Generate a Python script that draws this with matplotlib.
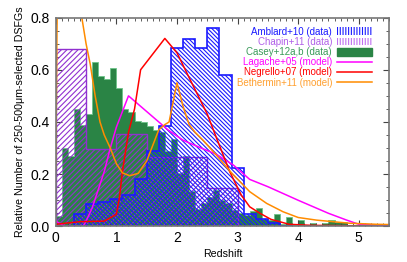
import matplotlib
matplotlib.use("Agg")
import matplotlib.pyplot as plt
import numpy as np
from matplotlib.patches import Patch
from matplotlib.lines import Line2D
from matplotlib.ticker import MultipleLocator

plt.rcParams["font.family"] = ["Liberation Sans", "DejaVu Sans"]
plt.rcParams["hatch.linewidth"] = 0.8

# Casey+12a,b (data): bins of width 0.1 from 0 to 5.5
casey_edges = np.round(np.arange(0, 5.51, 0.1), 2)
casey_vals = [0.04, 0.30, 0.27, 0.45, 0.39, 0.43, 0.63, 0.575, 0.565, 0.605,
              0.53, 0.45, 0.44, 0.405, 0.40, 0.385, 0.37, 0.36, 0.29, 0.335,
              0.205, 0.27, 0.135, 0.065, 0.09, 0.113, 0.14, 0.10, 0.09, 0.062,
              0.05, 0.043, 0.059, 0.071, 0.028, 0.024, 0.046, 0.009, 0.034, 0.005,
              0.024, 0.003, 0.011, 0.002, 0.011, 0.024, 0.017, 0.017, 0.005, 0.005,
              0.008, 0.008, 0.008, 0.005, 0.005]

# Chapin+11 (data)
chapin_edges = [0.0, 0.5, 1.0, 1.5, 2.0, 2.5, 3.0]
chapin_vals = [0.68, 0.295, 0.353, 0.265, 0.265, 0.148]

# Amblard+10 (data)
amblard_edges = np.round(np.arange(0.3, 3.91, 0.2), 2)
amblard_vals = [0.046, 0.085, 0.095, 0.105, 0.12, 0.18, 0.29, 0.384, 0.682,
                0.716, 0.682, 0.759, 0.580, 0.225, 0.046, 0.028, 0.011, 0.003]

# models
lagache_z = [0, 0.15, 0.45, 0.5, 0.6, 0.7, 0.8, 0.9, 1.0, 1.1, 1.2, 1.35, 1.55,
             1.75, 1.85, 2.1, 2.4, 2.65, 2.93, 3.2, 3.5, 4.0, 4.5, 4.8, 5.0, 5.5]
lagache_n = [0.02, 0.0, 0.0, 0.02, 0.07, 0.14, 0.21, 0.30, 0.38, 0.44, 0.50, 0.47,
             0.43, 0.39, 0.37, 0.33, 0.30, 0.276, 0.235, 0.18, 0.152, 0.10, 0.05,
             0.024, 0.008, 0.003]

negrello_z = [0, 0.4, 0.8, 1.0, 1.05, 1.1, 1.2, 1.3, 1.4, 1.8, 2.0, 2.2, 2.5,
              2.65, 2.87, 3.06, 3.2, 3.37, 3.55, 3.85, 4.2, 5.0]
negrello_n = [0.008, 0.018, 0.02, 0.046, 0.11, 0.21, 0.36, 0.45, 0.60, 0.72,
              0.665, 0.57, 0.43, 0.34, 0.21, 0.12, 0.075, 0.05, 0.027, 0.008,
              0.004, 0.002]

bethermin_z = [0.0, 0.03, 0.1, 0.2, 0.3, 0.43, 0.5, 0.57, 0.65, 0.73, 0.8, 0.9,
               1.0, 1.1, 1.22, 1.36, 1.5, 1.6, 1.7, 1.8, 1.87, 2.0, 2.1, 2.2, 2.3,
               2.43, 2.65, 2.9, 3.2, 3.48, 3.75, 4.0, 4.3, 4.57, 4.85, 5.29, 5.5]
bethermin_n = [0.22, 1.0, 1.05, 1.0, 0.93, 0.80, 0.70, 0.62, 0.50, 0.40, 0.35,
               0.30, 0.24, 0.205, 0.194, 0.203, 0.25, 0.31, 0.37, 0.39, 0.40,
               0.55, 0.46, 0.39, 0.36, 0.33, 0.273, 0.205, 0.133, 0.088, 0.056,
               0.034, 0.024, 0.018, 0.012, 0.008, 0.007]

c_amb = "#1a1aff"
c_cha = "#9030d0"
c_cas = "#2a8445"
c_lag = "#ff00ff"
c_neg = "#ff0000"
c_bet = "#ff8c00"

fig = plt.figure(figsize=(4.07, 2.62), dpi=100)
ax = fig.add_axes([0.137, 0.136, 0.819, 0.797])

ax.stairs(casey_vals, casey_edges, fill=True, facecolor=c_cas,
          edgecolor="#6cc489", linewidth=0.6, zorder=1)
ax.stairs(chapin_vals, chapin_edges, fill=True, facecolor="none",
          edgecolor=c_cha, hatch="//////", linewidth=1.0, zorder=2)
ax.stairs(amblard_vals, amblard_edges, fill=True, facecolor="none",
          edgecolor=c_amb, hatch="\\" * 8, linewidth=1.2, zorder=3)

ax.plot(lagache_z, lagache_n, color=c_lag, lw=1.1, zorder=4)
ax.plot(negrello_z, negrello_n, color=c_neg, lw=1.1, zorder=4)
ax.plot(bethermin_z, bethermin_n, color=c_bet, lw=1.1, zorder=4)

ax.set_xlim(0, 5.5)
ax.set_ylim(0, 0.8)
ax.xaxis.set_major_locator(MultipleLocator(1))
ax.xaxis.set_minor_locator(MultipleLocator(0.1))
ax.yaxis.set_major_locator(MultipleLocator(0.2))
ax.yaxis.set_minor_locator(MultipleLocator(0.05))
ax.tick_params(which="both", direction="in", top=True, right=True,
               labelsize=10, color="#444444")
ax.tick_params(which="major", length=4)
ax.tick_params(which="minor", length=2.2)
ax.tick_params(axis="y", pad=4)
ax.set_yticks([0, 0.2, 0.4, 0.6, 0.8])
ax.set_yticklabels(["0.0", "0.2", "0.4", "0.6", "0.8"])
for s in ax.spines.values():
    s.set_color("#777777")
    s.set_linewidth(1.2)
    s.set_zorder(5)

ax.set_xlabel("Redshift", fontsize=7.7, labelpad=3)
ax.set_ylabel("Relative Number of 250-500\u03bcm-selected DSFGs", fontsize=7.7,
              labelpad=4)

handles = [
    Patch(facecolor="white", edgecolor=c_amb, hatch="||||||", linewidth=0),
    Patch(facecolor="white", edgecolor="#c070f0", hatch="||||||", linewidth=0),
    Patch(facecolor=c_cas, edgecolor=c_cas),
    Line2D([], [], color=c_lag, lw=1.1),
    Line2D([], [], color=c_neg, lw=1.1),
    Line2D([], [], color=c_bet, lw=1.1),
]
labels = ["Amblard+10 (data)", "Chapin+11 (data)", "Casey+12a,b (data)",
          "Lagache+05 (model)", "Negrello+07 (model)", "Bethermin+11 (model)"]
leg = ax.legend(handles, labels, loc="upper right", bbox_to_anchor=(0.96, 0.975),
                frameon=False, fontsize=7, markerfirst=False, handlelength=3.6,
                handleheight=0.85, labelspacing=0.02, handletextpad=0.5,
                borderaxespad=0)
for t, c in zip(leg.get_texts(), [c_amb, "#b060e8", "#3a9a5a", c_lag, c_neg, "#ffa030"]):
    t.set_color(c)

fig.savefig("out.png", dpi=100)
